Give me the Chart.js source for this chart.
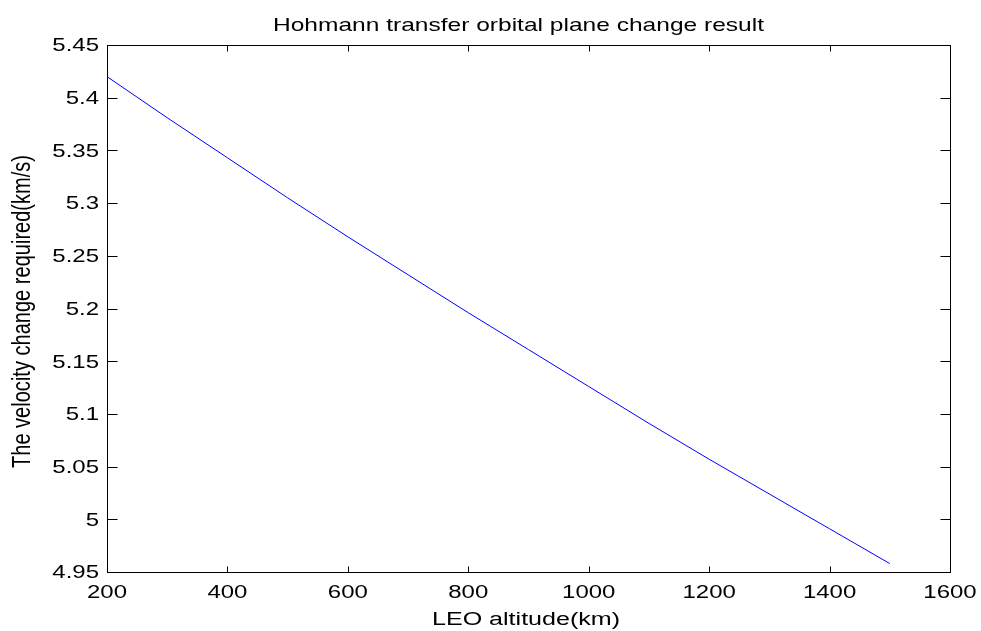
<!DOCTYPE html>
<html lang="en">
<head>
  <meta charset="UTF-8" />
  <title>Hohmann transfer orbital plane change result</title>
  <script src="https://cdn.jsdelivr.net/npm/chart.js"></script>
  <style>
    html, body { margin: 0; padding: 0; background: #fff; }
    canvas { display: block; }
  </style>
</head>
<body>
<canvas id="hohmannChart" width="981" height="631"></canvas>

<script>
// values
const altitudes = [200, 300, 400, 500, 600, 700, 800, 900, 1000, 1100, 1200, 1300, 1400, 1500];
const deltaV = [5.420, 5.381, 5.343, 5.305, 5.268, 5.232, 5.196, 5.161, 5.126, 5.091, 5.057, 5.024, 4.991, 4.958];

const xTicks = [200, 400, 600, 800, 1000, 1200, 1400, 1600];
const yTicks = [4.95, 5, 5.05, 5.1, 5.15, 5.2, 5.25, 5.3, 5.35, 5.4, 5.45];

const titleText = "Hohmann transfer orbital plane change result";
const xTitle = "LEO altitude(km)";
const yTitle = "The velocity change required(km/s)";

const FONT = '"Liberation Sans", Arial, sans-serif';

// text is a bit wider than Arial in the reference, so stretch it horizontally
function stretchText(ctx, text, x, y, size, sx, align) {
  ctx.save();
  ctx.translate(x, y);
  ctx.scale(sx, 1);
  ctx.font = size + "px " + FONT;
  ctx.textAlign = align;
  ctx.textBaseline = "alphabetic";
  ctx.fillText(text, 0, 0);
  ctx.restore();
}

function fitWidth(ctx, text, size, width) {
  ctx.font = size + "px " + FONT;
  return width / ctx.measureText(text).width;
}

function fmt(v) {
  return String(parseFloat(v.toFixed(2)));
}

// matlab-like box with inward ticks on all four sides
const matlabAxes = {
  id: "matlabAxes",
  afterDraw(chart) {
    const ctx = chart.ctx;
    const a = chart.chartArea;
    const xs = chart.scales.x;
    const ys = chart.scales.y;
    const L = Math.round(a.left) + 0.5, R = Math.round(a.right) + 0.5;
    const T = Math.round(a.top) + 0.5, B = Math.round(a.bottom) + 0.5;

    ctx.save();
    ctx.strokeStyle = "#000";
    ctx.fillStyle = "#000";
    ctx.lineWidth = 1;
    ctx.strokeRect(L, T, R - L, B - T);

    ctx.beginPath();
    xs.ticks.forEach(t => {
      const px = Math.round(xs.getPixelForValue(t.value)) + 0.5;
      ctx.moveTo(px, B); ctx.lineTo(px, B - 6);
      ctx.moveTo(px, T); ctx.lineTo(px, T + 6);
    });
    ys.ticks.forEach(t => {
      const py = Math.round(ys.getPixelForValue(t.value)) + 0.5;
      ctx.moveTo(L, py); ctx.lineTo(L + 10, py);
      ctx.moveTo(R, py); ctx.lineTo(R - 10, py);
    });
    ctx.stroke();

    // tick labels
    xs.ticks.forEach(t => {
      stretchText(ctx, fmt(t.value), xs.getPixelForValue(t.value), 597.5, 17.5, 1.37, "center");
    });
    ys.ticks.forEach(t => {
      stretchText(ctx, fmt(t.value), 99, ys.getPixelForValue(t.value) + 6.3, 17.5, 1.37, "right");
    });

    // titles
    stretchText(ctx, titleText, 518.5, 31, 19, fitWidth(ctx, titleText, 19, 491), "center");
    stretchText(ctx, xTitle, 526, 625, 18, fitWidth(ctx, xTitle, 18, 188), "center");

    ctx.save();
    ctx.translate(30, 311.5);
    ctx.rotate(-Math.PI / 2);
    ctx.scale(fitWidth(ctx, yTitle, 18, 313), 18 / (0.716 * 18));
    ctx.font = "18px " + FONT;
    ctx.textAlign = "center";
    ctx.textBaseline = "alphabetic";
    ctx.fillText(yTitle, 0, 0);
    ctx.restore();

    ctx.restore();
  }
};

new Chart(document.getElementById("hohmannChart").getContext("2d"), {
  type: "line",
  data: {
    datasets: [{
      data: altitudes.map((x, i) => ({ x: x, y: deltaV[i] })),
      borderColor: "#0000ff",
      borderWidth: 1,
      pointRadius: 0,
      tension: 0,
      fill: false
    }]
  },
  options: {
    responsive: false,
    devicePixelRatio: 1,
    animation: false,
    layout: { padding: { left: 107, top: 45, right: 31, bottom: 59 } },
    plugins: {
      legend: { display: false },
      tooltip: { enabled: false },
      title: { display: false }
    },
    scales: {
      x: {
        type: "linear",
        min: 200,
        max: 1600,
        afterBuildTicks: s => { s.ticks = xTicks.map(v => ({ value: v })); },
        afterFit: s => { s.height = 0; },
        ticks: { display: false },
        grid: { display: false },
        border: { display: false }
      },
      y: {
        type: "linear",
        min: 4.95,
        max: 5.45,
        afterBuildTicks: s => { s.ticks = yTicks.map(v => ({ value: v })); },
        afterFit: s => { s.width = 0; },
        ticks: { display: false },
        grid: { display: false },
        border: { display: false }
      }
    }
  },
  plugins: [matlabAxes]
});
</script>
</body>
</html>
